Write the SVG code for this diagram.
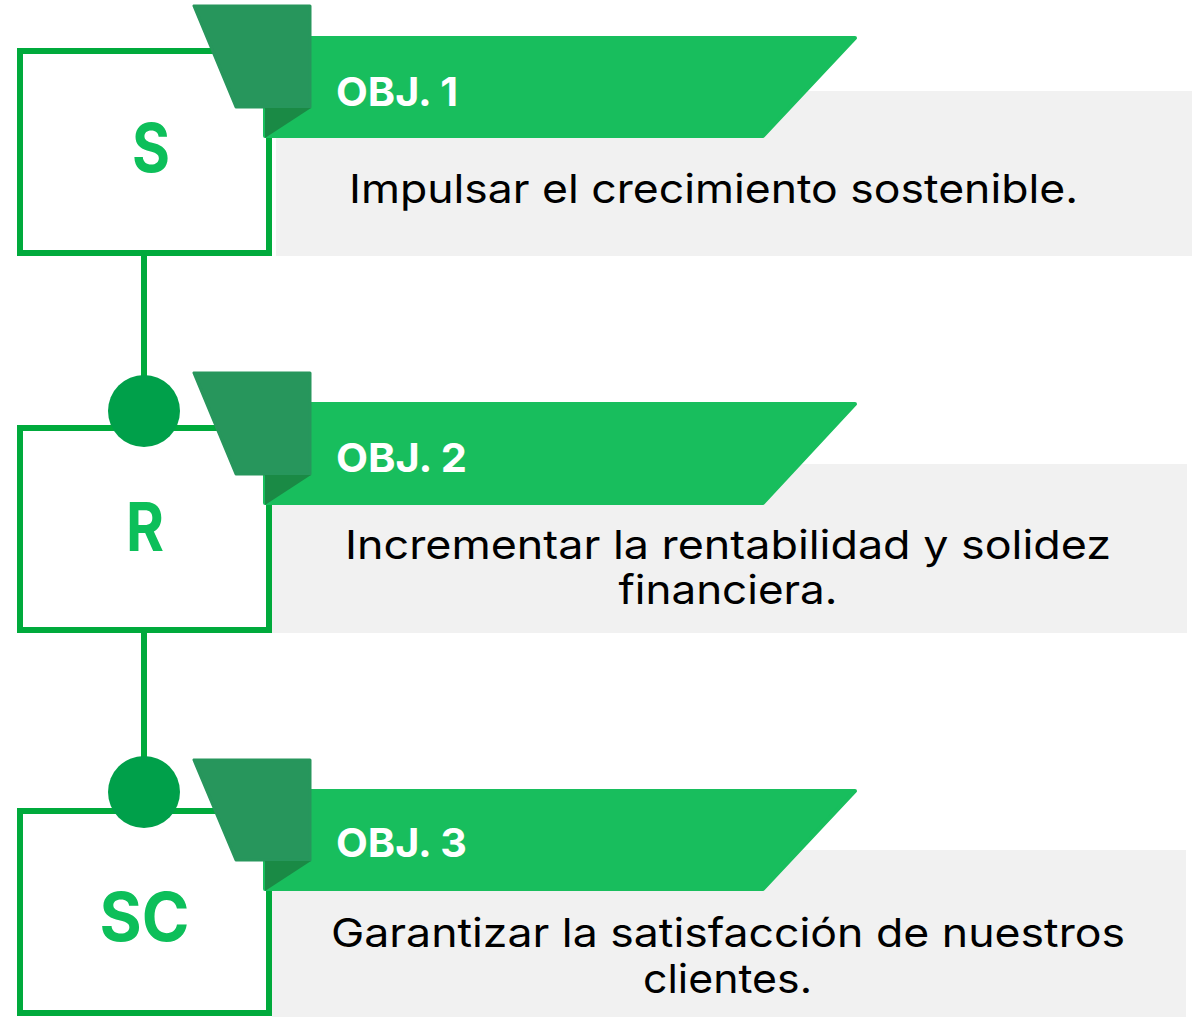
<svg xmlns="http://www.w3.org/2000/svg" width="1192" height="1017" viewBox="0 0 1192 1017">
<style>
.bg{fill:#f1f1f1}
.box{fill:#fff;stroke:#00aa3c;stroke-width:6}
.ban{fill:#18be5d;stroke:#18be5d;stroke-width:4;stroke-linejoin:round}
.tab{fill:#27965c;stroke:#27965c;stroke-width:3;stroke-linejoin:round}
.tri{fill:#1a8a45}
.dot{fill:#00a04a}
.lnk{stroke:#00aa3c;stroke-width:6;fill:none}
.obj{font-family:Inter,"Liberation Sans",sans-serif;font-weight:700;font-size:40px;fill:#fff}
.let{font-family:Inter,"Liberation Sans",sans-serif;font-weight:700;font-size:67px;fill:#0dbf5a;text-anchor:middle}
.txt{font-family:Inter,"Noto Sans","Liberation Sans",sans-serif;font-size:40px;fill:#000;text-anchor:middle}
</style>
<rect width="1192" height="1017" fill="#fff"/>
<g id="connectors">
<line class="lnk" x1="144" y1="253" x2="144" y2="411"/>
<line class="lnk" x1="144" y1="630" x2="144" y2="792"/>
</g>
<g id="node-s">
<rect class="bg" x="276" y="91" width="916" height="165"/>
<rect class="box" x="20" y="51" width="249" height="202"/>
<polygon class="ban" points="265,38 855,38 763,136 265,136"/>
<polygon class="tab" points="194,6 310,6 310,107 236,107"/>
<polygon class="tri" points="265,108 311,108 265,138"/>
<text class="obj" x="336" y="106" textLength="122" lengthAdjust="spacingAndGlyphs">OBJ. 1</text>
<text class="let" x="151" y="172" textLength="38" lengthAdjust="spacingAndGlyphs">S</text>
<text class="txt" x="713.5" y="203" textLength="729" lengthAdjust="spacingAndGlyphs">Impulsar el crecimiento sostenible.</text>
</g>
<g id="node-r">
<rect class="bg" x="272" y="464" width="915" height="169"/>
<rect class="box" x="20" y="428" width="249" height="202"/>
<circle class="dot" cx="144" cy="411" r="36"/>
<polygon class="ban" points="265,404 855,404 763,503 265,503"/>
<polygon class="tab" points="194,373 310,373 310,474 236,474"/>
<polygon class="tri" points="265,475 311,475 265,505"/>
<text class="obj" x="336" y="472" textLength="131" lengthAdjust="spacingAndGlyphs">OBJ. 2</text>
<text class="let" x="145" y="551" textLength="38" lengthAdjust="spacingAndGlyphs">R</text>
<text class="txt" x="728" y="559" textLength="766" lengthAdjust="spacingAndGlyphs">Incrementar la rentabilidad y solidez</text>
<text class="txt" x="728" y="604" textLength="219" lengthAdjust="spacingAndGlyphs">financiera.</text>
</g>
<g id="node-sc">
<rect class="bg" x="272" y="850" width="914" height="167"/>
<rect class="box" x="20" y="811" width="249" height="202"/>
<circle class="dot" cx="144" cy="792" r="36"/>
<polygon class="ban" points="265,791 855,791 763,889 265,889"/>
<polygon class="tab" points="194,760 310,760 310,860 236,860"/>
<polygon class="tri" points="265,861 311,861 265,891"/>
<text class="obj" x="336" y="857" textLength="131" lengthAdjust="spacingAndGlyphs">OBJ. 3</text>
<text class="let" x="144.5" y="941" textLength="90" lengthAdjust="spacingAndGlyphs">SC</text>
<text class="txt" x="728" y="947" textLength="794" lengthAdjust="spacingAndGlyphs">Garantizar la satisfacción de nuestros</text>
<text class="txt" x="727.5" y="993" textLength="169" lengthAdjust="spacingAndGlyphs">clientes.</text>
</g>
</svg>
